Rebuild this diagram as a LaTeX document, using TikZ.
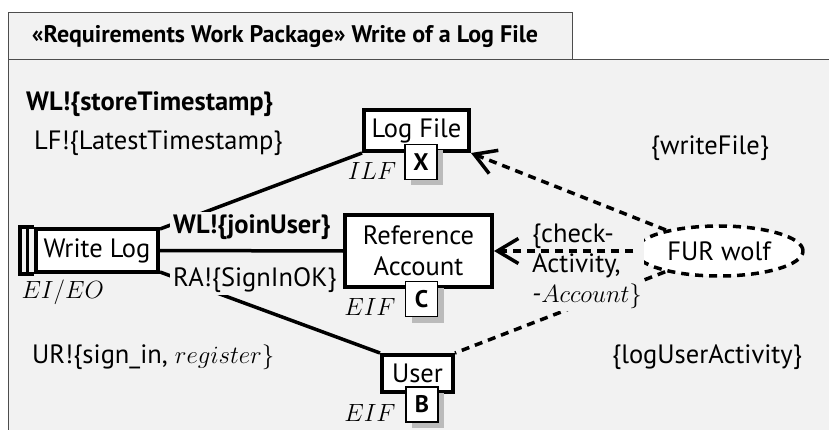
\documentclass[tikz,border=0pt]{standalone}
\usepackage{fontspec}
\setmainfont{PT Sans}
\usetikzlibrary{arrows.meta,shapes.geometric,shadows}
\definecolor{pagebg}{HTML}{F2F2F2}
\definecolor{shadowgray}{HTML}{BBBBBB}
\definecolor{framegray}{HTML}{4D4D4D}

\begin{document}
\begin{tikzpicture}[x=1pt,y=-1pt,
  every node/.style={font=\fontsize{26.5}{31}\selectfont},
  titletext/.style={font=\fontsize{24}{28}\selectfont\bfseries},
  domainbox/.style={draw, fill=white, line width=4pt, inner sep=1pt, align=center},
  badge/.style={draw, fill=white, line width=1.2pt, minimum width=32pt, minimum height=35pt,
    inner sep=0pt, font=\fontsize{24}{28}\selectfont\bfseries,
    drop shadow={shadow xshift=6pt, shadow yshift=-6pt, fill=shadowgray, opacity=1}},
  kind/.style={font=\fontsize{26}{30}\selectfont},
  phen/.style={anchor=west, inner sep=2pt},
  hider/.style={fill=pagebg, inner sep=3pt},
  conn/.style={line width=3.5pt},
  reqref/.style={line width=3.5pt, dash pattern=on 8pt off 6pt},
  barb/.style={-{Straight Barb[length=21pt, width=25pt, line width=3.5pt]}},
  requirement/.style={ellipse, draw, fill=white, line width=3.5pt, dash pattern=on 8pt off 6pt,
    minimum width=168pt, minimum height=50pt, inner sep=0pt}
]
\useasboundingbox (0,0) rectangle (829,430);

% package frame with its name tab
\fill[pagebg] (8,60) rectangle (829,430);
\draw[framegray, line width=1pt] (8,430) -- (8,60) -- (829,60);
\draw[framegray, line width=1pt, fill=pagebg] (8,13) rectangle (572,60);
\node[titletext] (title) at (285,37) {«Requirements Work Package» Write of a Log File};

% domains
\node[domainbox, minimum width=105pt, minimum height=41pt] (lf) at (416.5,130.5) {Log File};
\node[domainbox, minimum width=147pt, minimum height=72pt] (ra) at (418.5,251) {Reference\\Account};
\node[domainbox, minimum width=71pt, minimum height=37pt] (us) at (417.5,373.5) {User};
\node[domainbox, minimum width=122pt, minimum height=43pt] (wl) at (97,250.5) {Write Log};
\draw[line width=4pt] (wl.north west) -- ++(-14,0) |- (wl.south west);
\draw[line width=3pt] ([xshift=-6.5pt]wl.north west) -- ([xshift=-6.5pt]wl.south west);

% interfaces
\draw[conn] (wl.east) -- (ra.west);
\draw[conn] ([yshift=-2pt]wl.north east) -- (lf.south west);
\draw[conn] ([yshift=2pt]wl.south east) -- (us.north west);

% requirement and its references
\node[requirement] (fur) at (719,251) {FUR wolf};
\draw[reqref] (fur) -- (us.north east);
\node[hider, anchor=north west, align=left, inner sep=2pt,
  font=\fontsize{26.5}{30}\selectfont] (chk) at (530,222)
  {\{check-\\Activity,\\$\textit{-}Account\}$};
\draw[reqref, barb] (fur) -- (lf.south east);
\draw[reqref, barb] (fur.west) -- (ra.east);

% domain kinds and badges
\node[badge] (bx) at (421,162) {X};
\node[badge] (bc) at (421.5,299) {C};
\node[badge] (bb) at (422,404.5) {B};
\node[kind] (klf) at (372,171) {$ILF$};
\node[kind] (kra) at (370,307) {$EIF$};
\node[kind] (kus) at (370,413) {$EIF$};
\node[kind, anchor=west] (kwl) at (18,292) {$EI/EO$};

% shared phenomena
\node[phen, font=\fontsize{26.5}{31}\selectfont\bfseries] (p1) at (24,104) {WL!\{storeTimestamp\}};
\node[phen] (p2) at (32,143) {LF!\{LatestTimestamp\}};
\node[phen, hider, font=\fontsize{26.5}{31}\selectfont\bfseries] (p3) at (170,227) {WL!\{joinUser\}};
\node[phen, hider] (p4) at (170,280) {RA!\{SignInOK\}};
\node[phen] (p5) at (30,357) {UR!\{sign\_in, $register\}$};
\node (p6) at (710,148) {\{writeFile\}};
\node (p7) at (707,357) {\{logUserActivity\}};
\end{tikzpicture}
\end{document}
